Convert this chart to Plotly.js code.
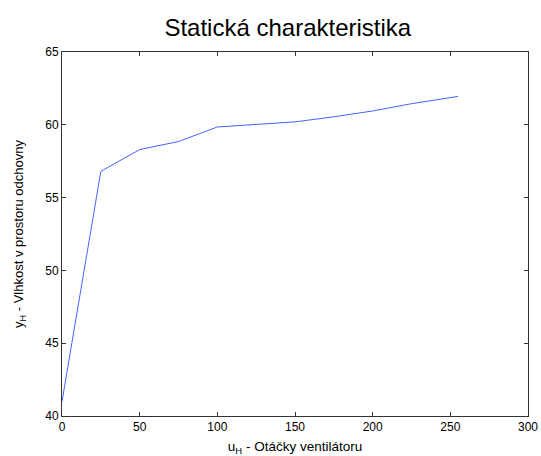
<!DOCTYPE html>
<html>
<head>
<meta charset="utf-8">
<script src="https://cdn.plot.ly/plotly-3.0.1.min.js"></script>
<style>html,body{margin:0;padding:0;background:#fff;}#chart{width:541px;height:456px;}</style>
</head>
<body>
<div id="chart"></div>
<script>
const uH = [0, 25, 50, 75, 100, 125, 150, 175, 200, 225, 255];
const yH = [41.0, 56.8, 58.3, 58.85, 59.85, 60.05, 60.2, 60.55, 60.95, 61.45, 61.95];
const xTicks = [0, 50, 100, 150, 200, 250, 300];
const yTicks = [40, 45, 50, 55, 60, 65];

const font = {family: 'Liberation Sans, Arial, sans-serif', color: '#000'};
const axisCommon = {
  showgrid: false, zeroline: false, showline: true, linecolor: '#333', linewidth: 1,
  mirror: 'ticks', ticks: 'inside', ticklen: 4, tickcolor: '#333',
  tickfont: {family: font.family, size: 12, color: '#000'}
};
Plotly.newPlot('chart', [{
  x: uH, y: yH, type: 'scatter', mode: 'lines',
  line: {color: 'rgb(70,100,255)', width: 1}
}], {
  width: 541, height: 456,
  margin: {l: 62, r: 13, t: 52, b: 40},
  paper_bgcolor: '#fff', plot_bgcolor: '#fff',
  showlegend: false,
  title: {text: 'Statická charakteristika', x: 0.532, xanchor: 'center', y: 0.94, yanchor: 'middle',
          font: {family: font.family, size: 24, color: '#000'}},
  xaxis: Object.assign({}, axisCommon, {range: [0, 300], tickvals: xTicks, ticktext: xTicks.map(String),
    tickfont: {family: font.family, size: 12, color: '#000'},
    title: {text: 'u<sub>H</sub> - Otáčky ventilátoru', standoff: 9, font: {family: font.family, size: 13.5, color: '#000'}}}),
  yaxis: Object.assign({}, axisCommon, {range: [40, 65], tickvals: yTicks, ticktext: yTicks.map(String),
    title: {text: 'y<sub>H</sub> - Vlhkost v prostoru odchovny', standoff: 18, font: {family: font.family, size: 13, color: '#000'}}})
}, {displayModeBar: false, staticPlot: true});
</script>
</body>
</html>
